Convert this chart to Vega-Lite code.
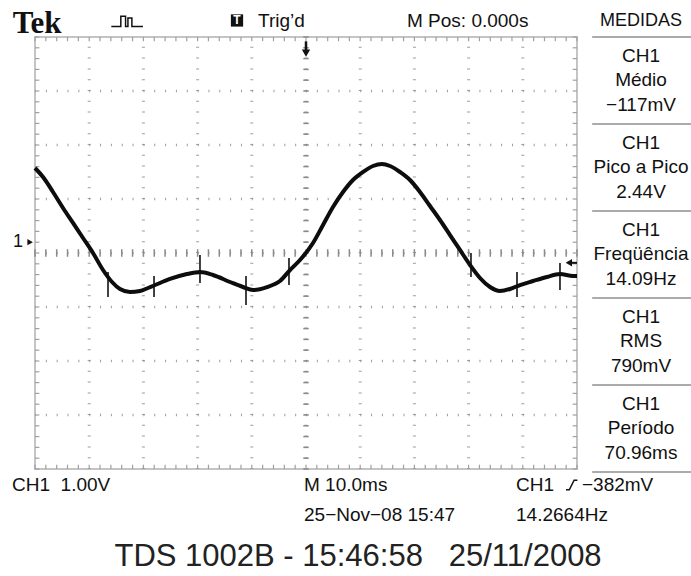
{
  "$schema": "https://vega.github.io/schema/vega-lite/v6.json",
  "width": 542,
  "height": 432,
  "autosize": {"type": "none"},
  "padding": {"left": 35, "top": 37, "right": 114, "bottom": 107},
  "background": "white",
  "config": {
    "view": {"stroke": "#c4c4c4", "strokeWidth": 2},
    "text": {"font": "Liberation Sans", "color": "#111111"}
  },
  "datasets": {
    "majorT": [{"t": -40}, {"t": -30}, {"t": -20}, {"t": -10}, {"t": 0}, {"t": 10}, {"t": 20}, {"t": 30}, {"t": 40}],
    "majorV": [{"v": 2.8}, {"v": 1.8}, {"v": 0.8}, {"v": -0.2}, {"v": -1.2}, {"v": -2.2}, {"v": -3.2}],
    "minorT": [{"t": -50}, {"t": -48}, {"t": -46}, {"t": -44}, {"t": -42}, {"t": -40}, {"t": -38}, {"t": -36}, {"t": -34}, {"t": -32}, {"t": -30}, {"t": -28}, {"t": -26}, {"t": -24}, {"t": -22}, {"t": -20}, {"t": -18}, {"t": -16}, {"t": -14}, {"t": -12}, {"t": -10}, {"t": -8}, {"t": -6}, {"t": -4}, {"t": -2}, {"t": 0}, {"t": 2}, {"t": 4}, {"t": 6}, {"t": 8}, {"t": 10}, {"t": 12}, {"t": 14}, {"t": 16}, {"t": 18}, {"t": 20}, {"t": 22}, {"t": 24}, {"t": 26}, {"t": 28}, {"t": 30}, {"t": 32}, {"t": 34}, {"t": 36}, {"t": 38}, {"t": 40}, {"t": 42}, {"t": 44}, {"t": 46}, {"t": 48}, {"t": 50}],
    "minorV": [{"v": -4.2}, {"v": -4.0}, {"v": -3.8}, {"v": -3.6}, {"v": -3.4}, {"v": -3.2}, {"v": -3.0}, {"v": -2.8}, {"v": -2.6}, {"v": -2.4}, {"v": -2.2}, {"v": -2.0}, {"v": -1.8}, {"v": -1.6}, {"v": -1.4}, {"v": -1.2}, {"v": -1.0}, {"v": -0.8}, {"v": -0.6}, {"v": -0.4}, {"v": -0.2}, {"v": 0.0}, {"v": 0.2}, {"v": 0.4}, {"v": 0.6}, {"v": 0.8}, {"v": 1.0}, {"v": 1.2}, {"v": 1.4}, {"v": 1.6}, {"v": 1.8}, {"v": 2.0}, {"v": 2.2}, {"v": 2.4}, {"v": 2.6}, {"v": 2.8}, {"v": 3.0}, {"v": 3.2}, {"v": 3.4}, {"v": 3.6}, {"v": 3.8}],
    "trace": [
      {"ms": -50.0, "volts": 1.374}, {"ms": -48.52, "volts": 1.207}, {"ms": -46.68, "volts": 0.93}, {"ms": -44.83, "volts": 0.633},
      {"ms": -42.99, "volts": 0.356}, {"ms": -41.14, "volts": 0.078}, {"ms": -39.3, "volts": -0.2}, {"ms": -37.45, "volts": -0.515},
      {"ms": -35.79, "volts": -0.737}, {"ms": -34.32, "volts": -0.867}, {"ms": -32.47, "volts": -0.922}, {"ms": -30.63, "volts": -0.904},
      {"ms": -29.15, "volts": -0.848}, {"ms": -28.23, "volts": -0.811}, {"ms": -25.09, "volts": -0.681}, {"ms": -21.96, "volts": -0.589},
      {"ms": -19.56, "volts": -0.552}, {"ms": -17.16, "volts": -0.607}, {"ms": -14.02, "volts": -0.737}, {"ms": -11.62, "volts": -0.83},
      {"ms": -9.78, "volts": -0.885}, {"ms": -7.2, "volts": -0.83}, {"ms": -4.8, "volts": -0.719}, {"ms": -2.95, "volts": -0.515},
      {"ms": -1.11, "volts": -0.33}, {"ms": 1.29, "volts": -0.015}, {"ms": 3.14, "volts": 0.319}, {"ms": 4.98, "volts": 0.652},
      {"ms": 6.83, "volts": 0.93}, {"ms": 8.67, "volts": 1.152}, {"ms": 10.52, "volts": 1.3}, {"ms": 12.36, "volts": 1.411},
      {"ms": 14.02, "volts": 1.448}, {"ms": 15.5, "volts": 1.411}, {"ms": 17.34, "volts": 1.3}, {"ms": 19.19, "volts": 1.152},
      {"ms": 21.03, "volts": 0.93}, {"ms": 22.88, "volts": 0.67}, {"ms": 24.72, "volts": 0.411}, {"ms": 26.57, "volts": 0.133},
      {"ms": 28.41, "volts": -0.144}, {"ms": 30.26, "volts": -0.422}, {"ms": 32.1, "volts": -0.663}, {"ms": 33.95, "volts": -0.83},
      {"ms": 35.79, "volts": -0.904}, {"ms": 37.64, "volts": -0.867}, {"ms": 39.48, "volts": -0.793}, {"ms": 41.88, "volts": -0.719},
      {"ms": 44.46, "volts": -0.644}, {"ms": 46.86, "volts": -0.589}, {"ms": 49.26, "volts": -0.626}, {"ms": 50.0, "volts": -0.626}
    ],
    "glitch": [
      {"ms": -36.53, "lo": -1.015, "hi": -0.552}, {"ms": -28.04, "lo": -1.015, "hi": -0.626},
      {"ms": -19.56, "lo": -0.756, "hi": -0.237}, {"ms": -11.07, "lo": -1.163, "hi": -0.626},
      {"ms": -3.14, "lo": -0.793, "hi": -0.293}, {"ms": 30.44, "lo": -0.644, "hi": -0.2},
      {"ms": 38.93, "lo": -1.015, "hi": -0.552}, {"ms": 46.86, "lo": -0.885, "hi": -0.385}
    ]
  },
  "layer": [
    {"data": {"name": "majorT"}, "mark": {"type": "rule", "stroke": "#9c9c9c", "strokeWidth": 3, "strokeDash": [1, 9.8]},
     "encoding": {"x": {"field": "t", "type": "quantitative", "scale": {"domain": [-50, 50], "nice": false, "zero": false}, "axis": null},
                  "y": {"datum": -4.2, "scale": {"domain": [-4.2, 3.8], "nice": false, "zero": false}, "axis": null}, "y2": {"datum": 3.8}}},
    {"data": {"name": "majorV"}, "mark": {"type": "rule", "stroke": "#9c9c9c", "strokeWidth": 2.5, "strokeDash": [1, 9.84]},
     "encoding": {"y": {"field": "v", "type": "quantitative", "axis": null}, "x": {"datum": -50, "axis": null}, "x2": {"datum": 50}}},
    {"data": {"name": "minorV"}, "mark": {"type": "rule", "stroke": "#8a8a8a", "strokeWidth": 1.5},
     "encoding": {"y": {"field": "v", "type": "quantitative", "axis": null}, "x": {"datum": -0.5, "axis": null}, "x2": {"datum": 0.5}}},
    {"data": {"name": "minorT"}, "mark": {"type": "rule", "stroke": "#8a8a8a", "strokeWidth": 1.5},
     "encoding": {"x": {"field": "t", "type": "quantitative", "axis": null}, "y": {"datum": -0.27, "axis": null}, "y2": {"datum": -0.13}}},
    {"data": {"name": "minorT"}, "mark": {"type": "rule", "stroke": "#a0a0a0", "strokeWidth": 1.2},
     "encoding": {"x": {"field": "t", "type": "quantitative", "axis": null}, "y": {"datum": 3.8, "axis": null}, "y2": {"datum": 3.72}}},
    {"data": {"name": "minorT"}, "mark": {"type": "rule", "stroke": "#a0a0a0", "strokeWidth": 1.2},
     "encoding": {"x": {"field": "t", "type": "quantitative", "axis": null}, "y": {"datum": -4.2, "axis": null}, "y2": {"datum": -4.12}}},
    {"data": {"name": "minorV"}, "mark": {"type": "rule", "stroke": "#a0a0a0", "strokeWidth": 1.2},
     "encoding": {"y": {"field": "v", "type": "quantitative", "axis": null}, "x": {"datum": -50, "axis": null}, "x2": {"datum": -49.2}}},
    {"data": {"name": "minorV"}, "mark": {"type": "rule", "stroke": "#a0a0a0", "strokeWidth": 1.2},
     "encoding": {"y": {"field": "v", "type": "quantitative", "axis": null}, "x": {"datum": 50, "axis": null}, "x2": {"datum": 49.2}}},
    {"data": {"name": "glitch"}, "mark": {"type": "rule", "stroke": "#111111", "strokeWidth": 1.6},
     "encoding": {"x": {"field": "ms", "type": "quantitative", "axis": null}, "y": {"field": "lo", "type": "quantitative", "axis": null}, "y2": {"field": "hi"}}},
    {"data": {"name": "trace"}, "mark": {"type": "line", "stroke": "#0d0d0d", "strokeWidth": 4, "interpolate": "monotone"},
     "encoding": {"x": {"field": "ms", "type": "quantitative", "axis": null}, "y": {"field": "volts", "type": "quantitative", "axis": null}}},

    {"data": {"values": [{}]}, "mark": {"type": "rule", "stroke": "#111111", "strokeWidth": 2.5},
     "encoding": {"x": {"datum": 0, "axis": null}, "y": {"datum": 3.72, "axis": null}, "y2": {"datum": 3.53}}},
    {"data": {"values": [{}]}, "mark": {"type": "point", "shape": "triangle-down", "filled": true, "color": "#111111", "size": 70, "opacity": 1},
     "encoding": {"x": {"datum": 0, "axis": null}, "y": {"datum": 3.5, "axis": null}}},
    {"data": {"values": [{}]}, "mark": {"type": "text", "text": "1", "fontSize": 18, "align": "center", "baseline": "middle"},
     "encoding": {"x": {"datum": -53.14, "axis": null}, "y": {"datum": 0.01, "axis": null}}},
    {"data": {"values": [{}]}, "mark": {"type": "point", "shape": "triangle-right", "filled": true, "color": "#111111", "size": 40, "opacity": 1},
     "encoding": {"x": {"datum": -50.9, "axis": null}, "y": {"datum": 0, "axis": null}}},
    {"data": {"values": [{}]}, "mark": {"type": "point", "shape": "triangle-left", "filled": true, "color": "#111111", "size": 55, "opacity": 1},
     "encoding": {"x": {"datum": 48.5, "axis": null}, "y": {"datum": -0.382, "axis": null}}},
    {"data": {"values": [{}]}, "mark": {"type": "rule", "stroke": "#111111", "strokeWidth": 2},
     "encoding": {"x": {"datum": 48.8, "axis": null}, "x2": {"datum": 50}, "y": {"datum": -0.382, "axis": null}}},

    {"data": {"values": [{}]}, "mark": {"type": "text", "text": "Tek", "font": "Liberation Serif", "fontWeight": "bold", "fontSize": 31, "align": "left", "baseline": "middle"},
     "encoding": {"x": {"datum": -54.1, "axis": null}, "y": {"datum": 4.04, "axis": null}}},
    {"data": {"values": [{}]}, "mark": {"type": "point", "shape": "M-1,0.3 L-0.4,0.3 L-0.4,-0.35 L-0.1,-0.35 L-0.1,0.3 L0.05,0.3 L0.05,-0.25 L0.3,-0.25 L0.3,0.3 L1,0.3", "filled": false, "stroke": "#111111", "strokeWidth": 1.5, "size": 1000, "opacity": 1},
     "encoding": {"x": {"datum": -33.0, "axis": null}, "y": {"datum": 4.08, "axis": null}}},
    {"data": {"values": [{}]}, "mark": {"type": "point", "shape": "square", "filled": true, "color": "#111111", "size": 150, "opacity": 1},
     "encoding": {"x": {"datum": -12.73, "axis": null}, "y": {"datum": 4.106, "axis": null}}},
    {"data": {"values": [{}]}, "mark": {"type": "text", "text": "T", "fontWeight": "bold", "fontSize": 12, "color": "white", "align": "center", "baseline": "middle"},
     "encoding": {"x": {"datum": -12.73, "axis": null}, "y": {"datum": 4.106, "axis": null}}},
    {"data": {"values": [{}]}, "mark": {"type": "text", "text": "Trig’d", "fontSize": 19, "align": "left", "baseline": "middle"},
     "encoding": {"x": {"datum": -8.86, "axis": null}, "y": {"datum": 4.096, "axis": null}}},
    {"data": {"values": [{}]}, "mark": {"type": "text", "text": "M Pos: 0.000s", "fontSize": 19, "align": "left", "baseline": "middle"},
     "encoding": {"x": {"datum": 18.63, "axis": null}, "y": {"datum": 4.096, "axis": null}}},
    {"data": {"values": [{}]}, "mark": {"type": "text", "text": "MEDIDAS", "fontSize": 18, "align": "center", "baseline": "middle"},
     "encoding": {"x": {"datum": 61.81, "axis": null}, "y": {"datum": 4.096, "axis": null}}},

    {"data": {"values": [{}]}, "mark": {"type": "rule", "stroke": "#8f8f8f", "strokeWidth": 1.5},
     "encoding": {"x": {"datum": 52.8, "axis": null}, "x2": {"datum": 71.03}, "y": {"datum": 3.8, "axis": null}}},
    {"data": {"values": [{}]}, "mark": {"type": "rule", "stroke": "#8f8f8f", "strokeWidth": 1.5},
     "encoding": {"x": {"datum": 52.8, "axis": null}, "x2": {"datum": 71.03}, "y": {"datum": 2.189, "axis": null}}},
    {"data": {"values": [{}]}, "mark": {"type": "rule", "stroke": "#8f8f8f", "strokeWidth": 1.5},
     "encoding": {"x": {"datum": 52.8, "axis": null}, "x2": {"datum": 71.03}, "y": {"datum": 0.578, "axis": null}}},
    {"data": {"values": [{}]}, "mark": {"type": "rule", "stroke": "#8f8f8f", "strokeWidth": 1.5},
     "encoding": {"x": {"datum": 52.8, "axis": null}, "x2": {"datum": 71.03}, "y": {"datum": -1.033, "axis": null}}},
    {"data": {"values": [{}]}, "mark": {"type": "rule", "stroke": "#8f8f8f", "strokeWidth": 1.5},
     "encoding": {"x": {"datum": 52.8, "axis": null}, "x2": {"datum": 71.03}, "y": {"datum": -2.644, "axis": null}}},
    {"data": {"values": [{}]}, "mark": {"type": "rule", "stroke": "#8f8f8f", "strokeWidth": 1.5},
     "encoding": {"x": {"datum": 52.8, "axis": null}, "x2": {"datum": 71.03}, "y": {"datum": -4.256, "axis": null}}},

    {"data": {"values": [{}]}, "mark": {"type": "text", "text": ["CH1", "Médio", "−117mV"], "fontSize": 19, "lineHeight": 24.3, "align": "center", "baseline": "middle"},
     "encoding": {"x": {"datum": 61.81, "axis": null}, "y": {"datum": 3.448, "axis": null}}},
    {"data": {"values": [{}]}, "mark": {"type": "text", "text": ["CH1", "Pico a Pico", "2.44V"], "fontSize": 19, "lineHeight": 24.3, "align": "center", "baseline": "middle"},
     "encoding": {"x": {"datum": 61.81, "axis": null}, "y": {"datum": 1.837, "axis": null}}},
    {"data": {"values": [{}]}, "mark": {"type": "text", "text": ["CH1", "Freqüência", "14.09Hz"], "fontSize": 19, "lineHeight": 24.3, "align": "center", "baseline": "middle"},
     "encoding": {"x": {"datum": 61.81, "axis": null}, "y": {"datum": 0.226, "axis": null}}},
    {"data": {"values": [{}]}, "mark": {"type": "text", "text": ["CH1", "RMS", "790mV"], "fontSize": 19, "lineHeight": 24.3, "align": "center", "baseline": "middle"},
     "encoding": {"x": {"datum": 61.81, "axis": null}, "y": {"datum": -1.385, "axis": null}}},
    {"data": {"values": [{}]}, "mark": {"type": "text", "text": ["CH1", "Período", "70.96ms"], "fontSize": 19, "lineHeight": 24.3, "align": "center", "baseline": "middle"},
     "encoding": {"x": {"datum": 61.81, "axis": null}, "y": {"datum": -2.996, "axis": null}}},

    {"data": {"values": [{}]}, "mark": {"type": "text", "text": "CH1\u00a0\u00a01.00V", "fontSize": 19, "align": "left", "baseline": "middle"},
     "encoding": {"x": {"datum": -54.24, "axis": null}, "y": {"datum": -4.496, "axis": null}}},
    {"data": {"values": [{}]}, "mark": {"type": "text", "text": "M 10.0ms", "fontSize": 19, "align": "left", "baseline": "middle"},
     "encoding": {"x": {"datum": -0.37, "axis": null}, "y": {"datum": -4.496, "axis": null}}},
    {"data": {"values": [{}]}, "mark": {"type": "text", "text": "CH1", "fontSize": 19, "align": "left", "baseline": "middle"},
     "encoding": {"x": {"datum": 38.75, "axis": null}, "y": {"datum": -4.496, "axis": null}}},
    {"data": {"values": [{}]}, "mark": {"type": "point", "shape": "M-1,0.8 L-0.45,0.8 L0.35,-0.8 L0.9,-0.8", "filled": false, "stroke": "#111111", "strokeWidth": 1.5, "size": 144, "opacity": 1},
     "encoding": {"x": {"datum": 49.08, "axis": null}, "y": {"datum": -4.496, "axis": null}}},
    {"data": {"values": [{}]}, "mark": {"type": "text", "text": "−382mV", "fontSize": 19, "align": "left", "baseline": "middle"},
     "encoding": {"x": {"datum": 50.92, "axis": null}, "y": {"datum": -4.496, "axis": null}}},
    {"data": {"values": [{}]}, "mark": {"type": "text", "text": "25−Nov−08 15:47", "fontSize": 19, "align": "left", "baseline": "middle"},
     "encoding": {"x": {"datum": -0.37, "axis": null}, "y": {"datum": -5.052, "axis": null}}},
    {"data": {"values": [{}]}, "mark": {"type": "text", "text": "14.2664Hz", "fontSize": 19, "align": "left", "baseline": "middle"},
     "encoding": {"x": {"datum": 38.75, "axis": null}, "y": {"datum": -5.052, "axis": null}}},
    {"data": {"values": [{}]}, "mark": {"type": "text", "text": "TDS 1002B - 15:46:58\u00a0\u00a0\u00a025/11/2008", "fontSize": 31, "color": "#222222", "align": "center", "baseline": "middle"},
     "encoding": {"x": {"datum": 9.6, "axis": null}, "y": {"datum": -5.83, "axis": null}}}
  ]
}
